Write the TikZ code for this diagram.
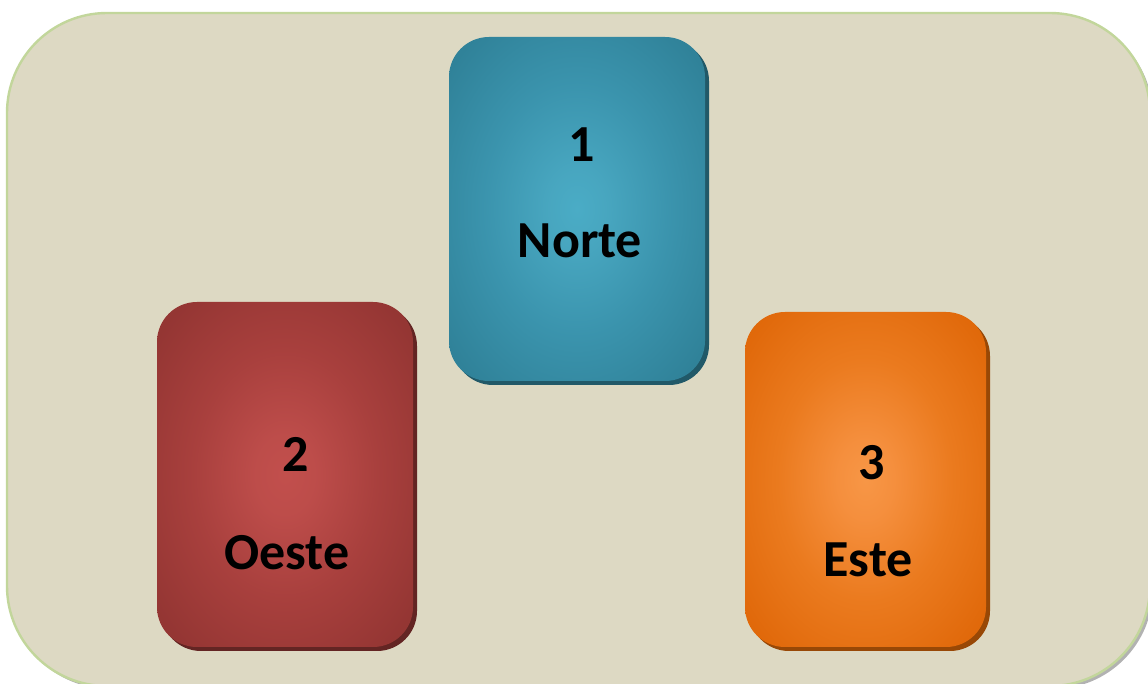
\documentclass[tikz,border=0pt]{standalone}
\usepackage{fontspec}
\setmainfont{Carlito}
\pgfdeclareradialshading{tealsh}{\pgfpoint{0bp}{0bp}}{rgb(0bp)=(0.29,0.675,0.776); rgb(6bp)=(0.28,0.65,0.75); rgb(18bp)=(0.23,0.58,0.68); rgb(32bp)=(0.188,0.51,0.60); rgb(100bp)=(0.188,0.51,0.60)}
\pgfdeclareradialshading{redsh}{\pgfpoint{0bp}{0bp}}{rgb(0bp)=(0.76,0.31,0.30); rgb(6bp)=(0.74,0.30,0.29); rgb(18bp)=(0.66,0.25,0.24); rgb(32bp)=(0.58,0.21,0.20); rgb(100bp)=(0.58,0.21,0.20)}
\pgfdeclareradialshading{orangesh}{\pgfpoint{0bp}{0bp}}{rgb(0bp)=(0.97,0.59,0.275); rgb(6bp)=(0.96,0.56,0.24); rgb(18bp)=(0.92,0.48,0.12); rgb(32bp)=(0.88,0.41,0.04); rgb(100bp)=(0.88,0.41,0.04)}
\definecolor{bgfill}{HTML}{DDD9C3}
\definecolor{bgborder}{HTML}{C2D69B}
\definecolor{tealdark}{HTML}{215968}
\definecolor{reddark}{HTML}{632523}
\definecolor{orangedark}{HTML}{984806}
\tikzset{
  card/.style={rounded corners=20pt, inner sep=0pt, draw=none,
    preaction={fill=#1, transform canvas={shift={(2pt,-2pt)}}}},
  lbl/.style={font=\fontsize{26}{30}\selectfont\bfseries, inner sep=0pt, anchor=base, text=black}
}
\begin{document}
\begin{tikzpicture}[x=0.5pt,y=-0.5pt]
\useasboundingbox (0,0) rectangle (1148,684);
\begin{scope}
\clip (0,0) rectangle (1148,684);
\path[fill=black!30, rounded corners=50pt] (10,16) rectangle (1153,689);
\node[draw=bgborder, fill=bgfill, line width=1.2pt, rounded corners=50pt, inner sep=0pt,
  minimum width=571.5pt, minimum height=336.5pt] (panel) at (578.5,349.5) {};
\end{scope}
\node[card=tealdark, shading=tealsh, minimum width=128pt, minimum height=172pt] (norte) at (577,209) {};
\node[card=reddark, shading=redsh, minimum width=128pt, minimum height=172.5pt] (oeste) at (285,474.5) {};
\node[card=orangedark, shading=orangesh, minimum width=120.5pt, minimum height=167.5pt] (este) at (865.5,479.5) {};
\node[lbl] (n1) at (582,162) {1};
\node[lbl] (n1t) at (580,258) {Norte};
\node[lbl] (n2) at (296,472) {2};
\node[lbl] (n2t) at (287,570) {Oeste};
\node[lbl] (n3) at (872,480) {3};
\node[lbl] (n3t) at (868,577) {Este};
\end{tikzpicture}
\end{document}
